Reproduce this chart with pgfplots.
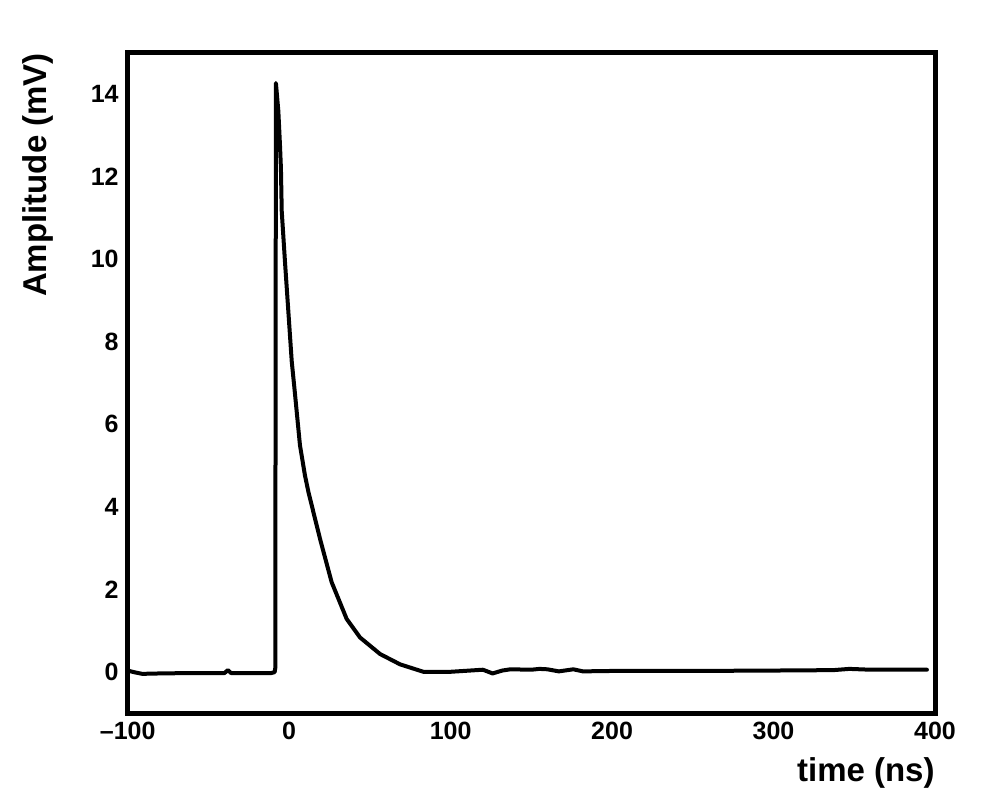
\documentclass[border=0pt]{standalone}
\usepackage{pgfplots}
\pgfplotsset{compat=1.18}
\usepackage{fontspec}
\setmainfont{Liberation Sans}
\usetikzlibrary{calc}

\pgfplotstableread{
t v
-99 0.03
-96 0.00
-91 -0.04
-80 -0.03
-60 -0.02
-40 -0.02
-38 0.05
-36 -0.02
-20 -0.02
-11 -0.02
-9 0.00
-8.6 0.10
-8.2 14.26
-6.7 13.58
-5.7 12.77
-5.1 12.20
-4.6 11.16
-2.6 9.94
-0.5 8.73
1.6 7.52
3.2 6.90
6.7 5.49
9.8 4.76
12.0 4.35
19.1 3.23
26.3 2.18
35.6 1.29
43.9 0.84
56.3 0.44
68.7 0.19
83.1 0.01
100 0.01
120 0.06
126 -0.03
132 0.04
137 0.07
150 0.06
155 0.08
160 0.07
167 0.02
176 0.07
182 0.02
200 0.03
250 0.03
300 0.04
337 0.05
347 0.08
360 0.06
395 0.06
}\pulse

\begin{document}
\begin{tikzpicture}
\begin{axis}[
  scale only axis,
  width=403.65pt, height=330.5pt,
  xmin=-100, xmax=400, ymin=-1, ymax=15,
  xtick={-100,0,100,200,300,400},
  xticklabels={–100,0,100,200,300,400},
  ytick={0,2,4,6,8,10,12,14},
  yticklabels={0,2,4,6,8,10,12,14},
  major tick length=0pt,
  tick style={draw=none},
  axis line style={line width=2.5pt},
  ticklabel style={font=\bfseries\fontsize{12.5}{15}\selectfont},
  xticklabel style={yshift=-0.5pt},
  yticklabel style={xshift=-1pt},
  xlabel={time (ns)},
  ylabel={Amplitude (mV)},
  label style={font=\bfseries\fontsize{16.5}{20}\selectfont},
  xlabel style={at={(rel axis cs:1,-0.1036)}, anchor=base east, inner sep=0pt},
  ylabel style={at={(rel axis cs:-0.1003,0.8147)}, anchor=base, inner sep=0pt},
]
\addplot[black, line width=2pt, line join=round, line cap=round] table[x=t, y=v] {\pulse};
\end{axis}
\pgfresetboundingbox
\path[use as bounding box] ($(current axis.south west)+(-63.85pt,-43.25pt)$) rectangle ($(current axis.south west)+(436.15pt,356.75pt)$);
\end{tikzpicture}
\end{document}
